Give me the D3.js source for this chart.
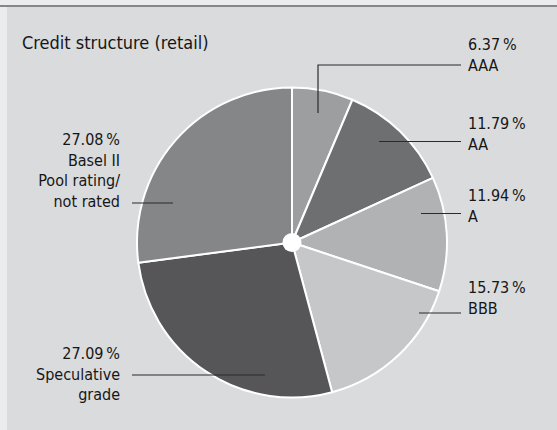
<!DOCTYPE html>
<html>
<head>
<meta charset="utf-8">
<script src="https://cdn.jsdelivr.net/npm/d3@7"></script>
<style>
  html, body { margin: 0; padding: 0; background: #ebeced; }
  svg { display: block; }
  text { font-family: "DejaVu Sans Condensed", "DejaVu Sans", sans-serif; font-stretch: condensed; fill: #161616; }
</style>
</head>
<body>
<div id="root"></div>
<script>
// chart data
const categories = ["AAA", "AA", "A", "BBB", "Speculative grade", "Basel II Pool rating/ not rated"];
const shares = [6.37, 11.79, 11.94, 15.73, 27.09, 27.08];
const labelLines = [
  ["AAA"],
  ["AA"],
  ["A"],
  ["BBB"],
  ["Speculative", "grade"],
  ["Basel II", "Pool rating/", "not rated"]
];
const sliceColors = ["#9d9e9f", "#6e6f71", "#b1b2b3", "#c6c7c8", "#565658", "#858688"];
const title = "Credit structure (retail)";

// label placement (layout only)
const labelLayout = [
  { side: "right", y: 50,  leaderY: 65,  inner: 318, elbowY: 113 },
  { side: "right", y: 129, leaderY: 141.5, inner: 379 },
  { side: "right", y: 201, leaderY: 213.5, inner: 421 },
  { side: "right", y: 293, leaderY: 313, inner: 419 },
  { side: "left",  y: 359, leaderY: 375, inner: 265 },
  { side: "left",  y: 145, leaderY: 203, inner: 173 }
];

const width = 557, height = 430;
const cx = 292, cy = 242.5, radius = 155;
const lineHeight = 20.7;

const svg = d3.select("#root")
  .append("svg")
  .attr("width", width)
  .attr("height", height);

// panel background
svg.append("rect")
  .attr("x", 7).attr("y", 6)
  .attr("width", width - 7).attr("height", height - 6)
  .attr("fill", "#dadbdd");

svg.append("line")
  .attr("x1", 0).attr("x2", width)
  .attr("y1", 6).attr("y2", 6)
  .attr("stroke", "#858687")
  .attr("stroke-width", 2);

svg.append("text")
  .attr("x", 22).attr("y", 49)
  .attr("font-size", 18)
  .text(title);

const data = categories.map((c, i) => ({ name: c, value: shares[i], idx: i }));

const pie = d3.pie().value(d => d.value).sort(null);
const arc = d3.arc().innerRadius(0).outerRadius(radius);

const g = svg.append("g").attr("transform", `translate(${cx},${cy})`);

g.selectAll("path")
  .data(pie(data))
  .enter()
  .append("path")
  .attr("d", arc)
  .attr("fill", d => sliceColors[d.data.idx])
  .attr("stroke", "#fff")
  .attr("stroke-width", 2)
  .attr("stroke-linejoin", "round");

g.append("circle")
  .attr("r", 9.5)
  .attr("fill", "#fff");

// labels and leader lines
const labels = svg.append("g");
data.forEach((d, i) => {
  const lay = labelLayout[i];
  const right = lay.side === "right";
  const tx = right ? 468 : 120;
  const lineEnd = right ? 461 : 132;

  const t = labels.append("text")
    .attr("x", tx)
    .attr("y", lay.y)
    .attr("font-size", 16)
    .attr("text-anchor", right ? "start" : "end");
  const lines = [d.value.toFixed(2) + "\u2009%"].concat(labelLines[i]);
  lines.forEach((s, k) => {
    t.append("tspan")
      .attr("x", tx)
      .attr("y", lay.y + k * lineHeight)
      .text(s);
  });

  const pts = lay.elbowY !== undefined
    ? [[lay.inner, lay.elbowY], [lay.inner, lay.leaderY], [lineEnd, lay.leaderY]]
    : [[lay.inner, lay.leaderY], [lineEnd, lay.leaderY]];
  labels.append("path")
    .attr("d", d3.line()(pts))
    .attr("fill", "none")
    .attr("stroke", "#2b2b2b")
    .attr("stroke-width", 1.2);
});
</script>
</body>
</html>
